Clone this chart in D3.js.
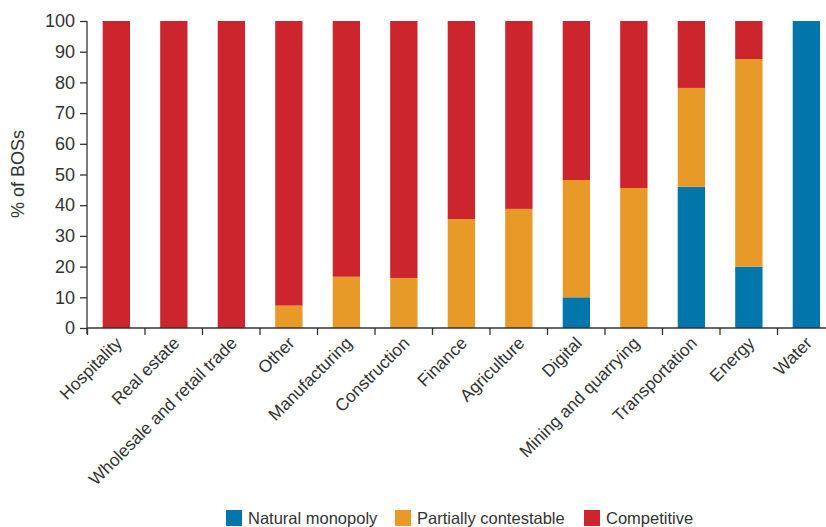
<!DOCTYPE html>
<html><head><meta charset="utf-8">
<script src="https://cdn.jsdelivr.net/npm/d3@7"></script>
<style>body{margin:0;background:#fff}svg{display:block}text{font-family:"Liberation Sans","Arial",sans-serif;fill:#333}</style>
</head><body><svg id="c" width="826" height="527"></svg>
<script>
const categories = ["Hospitality","Real estate","Wholesale and retail trade","Other","Manufacturing","Construction","Finance","Agriculture","Digital","Mining and quarrying","Transportation","Energy","Water"];
const naturalMonopoly = [0,0,0,0,0,0,0,0,10,0,46,20,100];
const partiallyContestable = [0,0,0,7.3,16.7,16.3,35.5,38.8,38.2,45.6,32.2,67.6,0];
const competitive = [100,100,100,92.7,83.3,83.7,64.5,61.2,51.8,54.4,21.8,12.4,0];
const seriesNames = ["Natural monopoly","Partially contestable","Competitive"];
const colors = ["#0076ab","#e89a28","#cc252d"];
const yTicks = [0,10,20,30,40,50,60,70,80,90,100];

const svg = d3.select("#c");
const x0 = 87, y0 = 328, y1 = 21;
const step = 57.5;
const x = d3.scaleBand().domain(categories).range([x0, x0 + step*categories.length]).padding(0);
const y = d3.scaleLinear().domain([0,100]).range([y0, y1]);

const rows = categories.map((c,i)=>({cat:c, "Natural monopoly":naturalMonopoly[i], "Partially contestable":partiallyContestable[i], "Competitive":competitive[i]}));
const stack = d3.stack().keys(seriesNames)(rows);

const bw = x.bandwidth()*0.475, off = x.bandwidth()*0.273;
svg.append("g").selectAll("g").data(stack).join("g").attr("fill",(d,i)=>colors[i])
  .selectAll("rect").data(d=>d).join("rect")
  .attr("x",d=>x(d.data.cat)+off).attr("width",bw)
  .attr("y",d=>y(d[1])).attr("height",d=>y(d[0])-y(d[1]));

// y axis
const ya = svg.append("g").attr("transform",`translate(${x0},0)`)
  .call(d3.axisLeft(y).tickValues(yTicks).tickSize(7).tickPadding(5));
ya.select(".domain").attr("stroke","#333").attr("stroke-width",1.3).attr("d",`M0,${y1}V${y0+6}`);
ya.selectAll(".tick line").attr("stroke","#333").attr("stroke-width",1.3);
ya.selectAll(".tick text").style("font-size","18px").attr("fill","#333");

// x axis boundary ticks
const xb = d3.scaleLinear().domain([0,categories.length]).range(x.range());
const xa = svg.append("g").attr("transform",`translate(0,${y0})`)
  .call(d3.axisBottom(xb).ticks(categories.length).tickSize(7).tickFormat(""));
xa.select(".domain").attr("stroke","#333").attr("stroke-width",1.3).attr("d",`M${x0},0H826`);
xa.selectAll(".tick line").attr("stroke","#333").attr("stroke-width",1.3);

// category labels
const xl = svg.append("g").attr("transform",`translate(0,${y0})`)
  .call(d3.axisBottom(x).tickSize(0).tickPadding(0));
xl.select(".domain").remove();
xl.selectAll(".tick text")
  .style("font-size","17.3px").attr("fill","#333")
  .attr("text-anchor","end")
  .attr("transform","translate(3,12) rotate(-45)")
  .attr("dy","0.35em").attr("y",0).attr("x",0);

// y label
svg.append("text").attr("transform","translate(24,174) rotate(-90)")
  .attr("text-anchor","middle").style("font-size","18px").text("% of BOSs");

// legend
const legX = [226,395,584];
const lg = svg.append("g");
seriesNames.forEach((s,i)=>{
  lg.append("rect").attr("x",legX[i]).attr("y",510).attr("width",16).attr("height",16).attr("fill",colors[i]);
  lg.append("text").attr("x",legX[i]+22).attr("y",524).style("font-size","16.5px").text(s);
});
</script></body></html>
